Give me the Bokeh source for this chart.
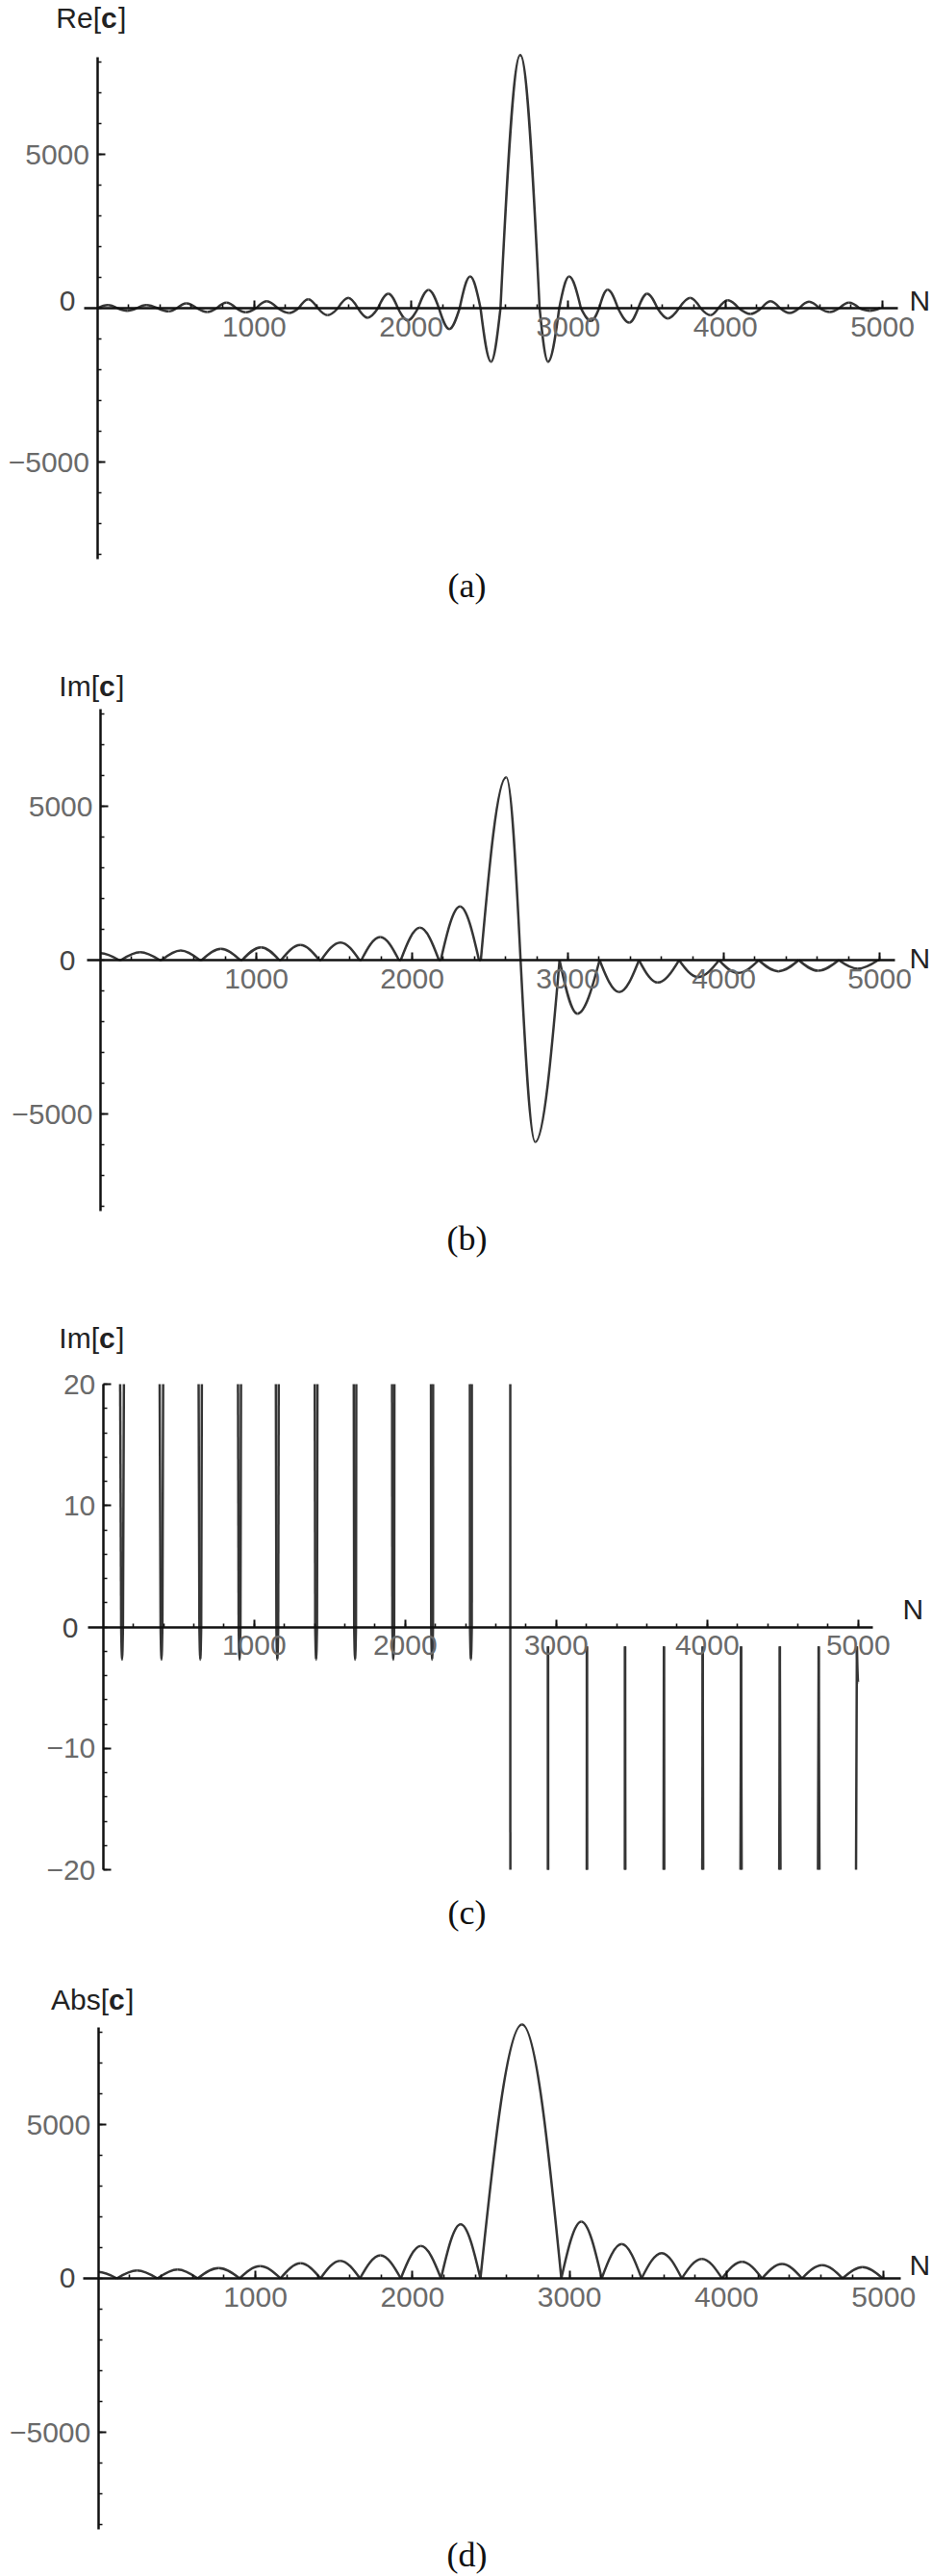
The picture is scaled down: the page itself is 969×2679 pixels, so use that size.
import numpy as np
from bokeh.plotting import figure
from bokeh.models import LinearAxis, FixedTicker, Range1d, Label, ColumnDataSource
from bokeh.layouts import column
from bokeh.embed import file_html
from bokeh.resources import INLINE

# ---------------- data ----------------
# (a) Re[c]: zero crossings, lobe extrema (position and value)
re_zero_x = [0, 130, 252, 385, 508, 635, 762, 885, 1012, 1150, 1283, 1405, 1533, 1660, 1788,
             1915, 2043, 2176, 2308, 2441, 2568, 2817, 2942, 3080, 3196, 3316, 3445, 3567,
             3705, 3842, 3955, 4085, 4229, 4348, 4470, 4598, 4726, 4853, 4985]
re_peak_x = [68, 191, 313, 456, 568, 701, 823, 946, 1079, 1222, 1344, 1467, 1599, 1722, 1854,
             1977, 2110, 2242, 2375, 2508, 2694, 2871, 3005, 3145, 3250, 3388, 3501, 3633,
             3776, 3905, 4015, 4160, 4287, 4409, 4532, 4665, 4787, 4920]
re_peak_y = [104, -83, 104, -104, 156, -125, 177, -135, 229, -156, 292, -229, 333, -312, 469,
             -396, 594, -677, 1030, -1740, 8230, -1740, 1030, -417, 604, -469, 469, -333,
             333, -229, 260, -188, 229, -156, 208, -125, 177, -83]

# (b), (c) Im[c]: lobe boundaries (value there) and lobe extrema
im_node_x = [0, 119, 131, 380, 392, 637, 649, 897, 909, 1147, 1159, 1404, 1416, 1662, 1674,
             1915, 1927, 2172, 2184, 2429, 2441, 2696, 2946, 3203, 3456, 3713, 3970, 4224,
             4481, 4738, 4991, 5000]
im_node_y = [229, 0, 0, 0, 0, 0, 0, 0, 0, 0, 0, 0, 0, 0, 0, 0, 0, 0, 0, 0, 0, 0,
             -1.6, -1.6, -1.6, -1.6, -1.6, -1.6, -1.6, -1.6, -1.6, -4.6]
im_peak_x = [0, 125, 255, 386, 515, 643, 773, 903, 1030, 1153, 1282, 1410, 1540, 1668, 1795,
             1921, 2050, 2178, 2307, 2435, 2604, 2790, 3061, 3329, 3576, 3835, 4090, 4350,
             4605, 4860, 5000]
im_peak_y = [229, -2.7, 260, -2.7, 312, -2.7, 365, -2.7, 417, -2.7, 490, -2.7, 573, -2.7, 750,
             -2.7, 1052, -2.7, 1740, -2.7, 5943, -5912, -1740, -1042, -729, -552, -417, -365,
             -344, -281, -4.6]

# (d) Abs[c]
abs_node_x = [0, 118, 376, 633, 900, 1160, 1415, 1666, 1926, 2182, 2433, 2948, 3205, 3459,
              3715, 3971, 4226, 4481, 4738, 4995]
abs_node_y = [210, 0, 0, 0, 0, 0, 0, 0, 0, 0, 0, 0, 0, 0, 0, 0, 0, 0, 0, 0]
abs_peak_x = [0, 247, 505, 766, 1030, 1288, 1540, 1796, 2054, 2307, 2698, 3075, 3332, 3587,
              3843, 4098, 4353, 4609, 4866]
abs_peak_y = [210, 260, 292, 333, 396, 490, 573, 750, 1052, 1760, 8250, 1844, 1115, 823,
              635, 542, 469, 427, 365]

x_ticks = [1000, 2000, 3000, 4000, 5000]
big_y_ticks = [-5000, 5000]
small_y_ticks = [-20, -10, 10, 20]

# ---------------- helpers ----------------
W = 969
CURVE = "#353535"
TICKC = "#6a6a6a"
FS = "30px"
KEYS = ["x0", "y0", "cx0", "cy0", "cx1", "cy1", "x1", "y1"]


def lobes(node_x, node_y, peak_x, peak_y):
    segs = []
    for i in range(len(peak_x)):
        xa, ya = node_x[i], node_y[i]
        xb, yb = node_x[i + 1], node_y[i + 1]
        xp, yp = peak_x[i], peak_y[i]
        h1 = xp - xa
        if h1 > 0:
            segs.append([(xa, ya), (xa + 0.318 * h1, ya + 0.5 * (yp - ya)), (xp - 0.35 * h1, yp), (xp, yp)])
        h2 = xb - xp
        if h2 > 0:
            segs.append([(xp, yp), (xp + 0.35 * h2, yp), (xb - 0.318 * h2, yb + 0.5 * (yp - yb)), (xb, yb)])
    return segs


def _split(P, t):
    P = [np.array(q, dtype=float) for q in P]
    a = P[0] + (P[1] - P[0]) * t
    b = P[1] + (P[2] - P[1]) * t
    c = P[2] + (P[3] - P[2]) * t
    d = a + (b - a) * t
    e = b + (c - b) * t
    f = d + (e - d) * t
    return [P[0], a, d, f], [f, e, c, P[3]]


def _y(P, t):
    u = 1 - t
    return u ** 3 * P[0][1] + 3 * u * u * t * P[1][1] + 3 * u * t * t * P[2][1] + t ** 3 * P[3][1]


def clip_segments(segs, lo, hi):
    """Cut every cubic piece to the part that lies inside lo <= y <= hi (plot range)."""
    out = []
    ts = np.linspace(0, 1, 4001)
    for P in segs:
        ys = _y(P, ts)
        inside = (ys >= lo) & (ys <= hi)
        if inside.all():
            out.append(P)
            continue
        i = 0
        n = len(ts)
        while i < n:
            if not inside[i]:
                i += 1
                continue
            j = i
            while j + 1 < n and inside[j + 1]:
                j += 1

            def refine(ta, tb):
                # ta inside, tb outside
                for _ in range(40):
                    tm = 0.5 * (ta + tb)
                    ym = _y(P, tm)
                    if lo <= ym <= hi:
                        ta = tm
                    else:
                        tb = tm
                return ta
            t0 = ts[i] if i == 0 else refine(ts[i], ts[i - 1])
            t1 = ts[j] if j == n - 1 else refine(ts[j], ts[j + 1])
            if t1 > t0:
                _, R = _split(P, t0)
                s = (t1 - t0) / (1 - t0) if t0 < 1 else 1.0
                L, _ = _split(R, s)
                out.append(L)
            i = j + 1
    return out


def to_source(segs):
    d = {k: [] for k in KEYS}
    for P in segs:
        vals = [P[0][0], P[0][1], P[1][0], P[1][1], P[2][0], P[2][1], P[3][0], P[3][1]]
        for k, v in zip(KEYS, vals):
            d[k].append(float(v))
    return ColumnDataSource(d)


def panel(top, height, x0, ppx, yzero, ppy, series, ybounds, xbounds, yticks, yminor,
          title, title_cx, title_cy, zero_lbl, n_lbl, cap, cap_y, clip=None):
    NX = lambda px: (px - x0) / ppx
    NY = lambda py: (yzero - py) / ppy
    xr = Range1d(NX(0), NX(W))
    yr = Range1d(NY(top + height), NY(top))
    p = figure(width=W, height=height, x_range=xr, y_range=yr, output_backend="svg",
               toolbar_location=None, x_axis_type=None, y_axis_type=None, min_border=0)
    p.outline_line_color = None
    p.background_fill_color = "white"
    p.border_fill_color = "white"

    segs = lobes(*series)
    if clip is not None:
        segs = clip_segments(segs, clip[0], clip[1])
    p.bezier(x0="x0", y0="y0", x1="x1", y1="y1", cx0="cx0", cy0="cy0", cx1="cx1", cy1="cy1",
             source=to_source(segs), line_color=CURVE, line_width=2.5)

    def style(ax):
        ax.axis_line_color = "#111111"
        ax.axis_line_width = 2.5
        ax.major_tick_in = 8
        ax.major_tick_out = 0
        ax.minor_tick_in = 4
        ax.minor_tick_out = 0
        ax.major_tick_line_color = "#111111"
        ax.minor_tick_line_color = "#111111"
        ax.major_tick_line_width = 2
        ax.minor_tick_line_width = 1.6
        ax.major_label_text_font = "Liberation Sans"
        ax.major_label_text_font_size = FS
        ax.major_label_text_color = TICKC
        ax.major_label_standoff = 8

    yax = LinearAxis(fixed_location=0, bounds=ybounds,
                     ticker=FixedTicker(ticks=yticks, minor_ticks=yminor))
    style(yax)
    yax.major_label_overrides = {t: ("\u2212" + str(abs(t)) if t < 0 else str(t)) for t in yticks}
    p.add_layout(yax, "left")

    xax = LinearAxis(fixed_location=0, bounds=xbounds,
                     ticker=FixedTicker(ticks=x_ticks, minor_ticks=list(range(200, 5001, 200))))
    style(xax)
    xax.major_label_standoff = 9
    p.add_layout(xax, "below")

    # axis title like "Re[c]" with bold c
    head, cb = title
    cw = 17
    p.add_layout(Label(x=NX(title_cx - cw / 2), y=NY(title_cy), text=head, text_align="right",
                       text_baseline="middle", text_font="Liberation Sans",
                       text_font_size=FS, text_color="#222222"))
    p.add_layout(Label(x=NX(title_cx - cw / 2), y=NY(title_cy), text=cb, text_align="left",
                       text_baseline="middle", text_font="Liberation Sans", text_font_style="bold",
                       text_font_size=FS, text_color="#222222"))
    p.add_layout(Label(x=NX(title_cx + cw / 2 + 1), y=NY(title_cy), text="]", text_align="left",
                       text_baseline="middle", text_font="Liberation Sans",
                       text_font_size=FS, text_color="#222222"))
    # "0" on the vertical axis
    zx, zy = zero_lbl
    p.add_layout(Label(x=NX(zx), y=NY(zy), text="0", text_align="right", text_baseline="middle",
                       text_font="Liberation Sans", text_font_size=FS, text_color="#444444"))
    # "N" at the end of the horizontal axis
    nx, ny = n_lbl
    p.add_layout(Label(x=NX(nx), y=NY(ny), text="N", text_align="left", text_baseline="middle",
                       text_font="Liberation Sans", text_font_size=FS, text_color="#222222"))
    # caption
    p.add_layout(Label(x=NX(485), y=NY(cap_y), text=cap, text_align="center",
                       text_baseline="middle", text_font="Liberation Serif",
                       text_font_size="36px", text_color="#111111"))
    return p


big_minor = list(range(-8000, 8001, 1000))
small_minor = list(range(-20, 21, 2))

pa = panel(0, 655, 100.5, 0.1633, 320, 0.032, (re_zero_x, [0] * len(re_zero_x), re_peak_x, re_peak_y),
           (-8156, 8156), (-85, 5100), big_y_ticks, big_minor,
           ("Re[", "c"), 113, 18, (78, 312), (945, 312), "(a)", 608)

pb = panel(655, 663, 104, 0.162, 998, 0.032, (im_node_x, im_node_y, im_peak_x, im_peak_y),
           (-8150, 8150), (-89, 5099), big_y_ticks, big_minor,
           ("Im[", "c"), 111, 713, (78, 998), (945, 996), "(b)", 1287)

pc = panel(1318, 692, 106.8, 0.157, 1691.5, 12.625, (im_node_x, im_node_y, im_peak_x, im_peak_y),
           (-20, 20), (-98, 5097), small_y_ticks, small_minor,
           ("Im[", "c"), 111, 1391, (81, 1692), (938, 1673), "(c)", 1988, clip=(-20, 20))

pd = panel(2010, 668, 101.7, 0.1633, 2369, 0.032, (abs_node_x, abs_node_y, abs_peak_x, abs_peak_y),
           (-8170, 8170), (-94, 5109), big_y_ticks, big_minor,
           ("Abs[", "c"), 121, 2079, (78, 2368), (945, 2355), "(d)", 2656)

layout = column(pa, pb, pc, pd, spacing=0)
open("out.html", "w").write(file_html(layout, INLINE))
